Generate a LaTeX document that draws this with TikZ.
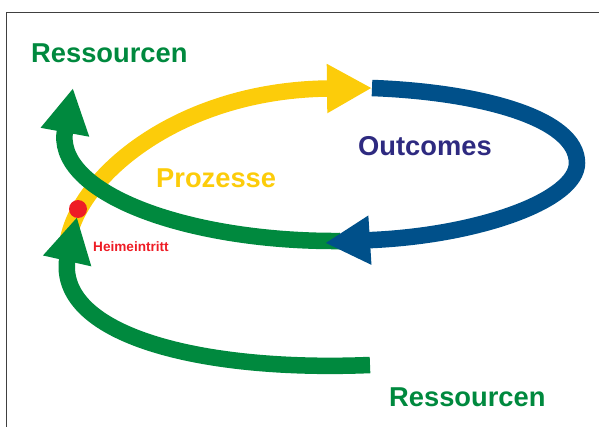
\documentclass[tikz,border=0pt]{standalone}
\usepackage{fontspec}
\setmainfont{Liberation Sans}
\usetikzlibrary{arrows.meta}
\definecolor{resgreen}{HTML}{00893E}
\definecolor{prozyellow}{HTML}{FCCC0A}
\definecolor{outblue}{HTML}{00508A}
\definecolor{outtext}{HTML}{2E2A80}
\definecolor{entryred}{HTML}{EE1C25}

\begin{document}
\begin{tikzpicture}[
            x=1pt, y=-1pt,
            band/.style={line width=16.5pt, -{Triangle[length=45pt,width=46pt]}},
            bigtext/.style={anchor=base west, inner sep=0pt, font=\fontsize{27.3}{30}\selectfont\bfseries},
            smalltext/.style={anchor=base west, inner sep=0pt, font=\fontsize{13.6}{15}\selectfont\bfseries},
        ]
            \useasboundingbox (0,0) rectangle (599,427);
            \draw [line width=1.2pt, black!75] (599,12.7) -- (6.7,12.7) -- (6.7,427);

            % ends of the bands, base and tip of each head
            \coordinate (proz-start) at (68,240);
            \coordinate (proz-base)  at (329,88.5);
            \coordinate (proz-tip)   at (372,88);
            \coordinate (out-right)  at (577,163);
            \coordinate (out-base)   at (372.5,240);
            \coordinate (out-tip)    at (325,243);
            \coordinate (resup-start) at (340,241);
            \coordinate (resup-base)  at (64.5,134.5);
            \coordinate (resup-tip)   at (73,88);
            \coordinate (reslow-start) at (370,365);
            \coordinate (reslow-base)  at (67,261.5);
            \coordinate (reslow-tip)   at (77,217);

            \draw [band, prozyellow] (proz-start) .. controls (80,175) and (180,90) .. (proz-base) -- (proz-tip);
            \draw [band, resgreen] (resup-start) .. controls (190,242) and (60,195) .. (resup-base) -- (resup-tip);
            \draw [band, outblue] (proz-tip) .. controls (480,92) and (577,118) .. (out-right)
                .. controls (577,200) and (480,235) .. (out-base) -- (out-tip);
            \draw [band, resgreen] (reslow-start) .. controls (200,372) and (60,335) .. (reslow-base) -- (reslow-tip);

            \node [circle, fill=entryred, minimum size=18pt, inner sep=0pt] (eintritt) at (78,209) {};

            \node [bigtext, text=resgreen]   (res-top)    at (31,63)  {Ressourcen};
            \node [bigtext, text=prozyellow] (prozesse)   at (156,188) {Prozesse};
            \node [bigtext, text=outtext]    (outcomes)   at (358,156) {Outcomes};
            \node [bigtext, text=resgreen]   (res-bottom) at (389,406) {Ressourcen};
            \node [smalltext, text=entryred] (heim)       at (93,252) {Heimeintritt};
        \end{tikzpicture}
\end{document}
